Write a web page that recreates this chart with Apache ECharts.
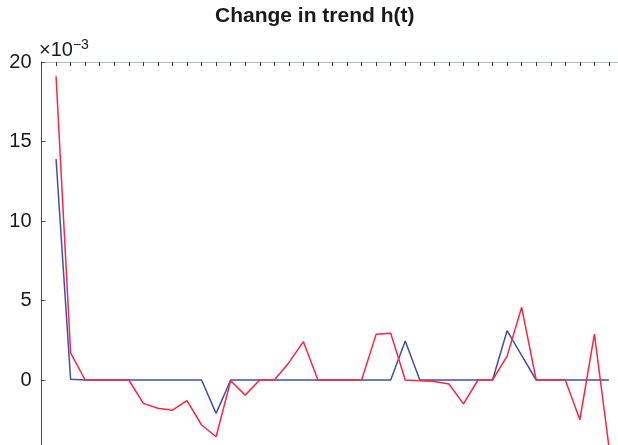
<!DOCTYPE html>
<html>
<head>
<meta charset="utf-8">
<script src="https://cdn.jsdelivr.net/npm/echarts@6/dist/echarts.min.js"></script>
<style>
  html, body { margin: 0; padding: 0; background: #ffffff; }
  #chart { width: 618px; height: 445px; }
</style>
</head>
<body>
<div id="chart"></div>
<script>
// Time steps t = 1..39
var steps = [1, 2, 3, 4, 5, 6, 7, 8, 9, 10, 11, 12, 13, 14, 15, 16, 17, 18, 19, 20,
             21, 22, 23, 24, 25, 26, 27, 28, 29, 30, 31, 32, 33, 34, 35, 36, 37, 38, 39];

// h(t), in units of 1e-3
var blueTrend = [13.9, 0.05, 0, 0, 0, 0, 0, 0, 0, 0, 0, -2.1, 0, 0, 0, 0, 0, 0, 0, 0,
                 0, 0, 0, 0, 2.45, 0, 0, 0, 0, 0, 0, 3.1, 1.55, 0, 0, 0, 0, 0, 0];
var redTrend = [19.1, 1.7, 0, 0, 0, 0, -1.47, -1.78, -1.9, -1.3, -2.83, -3.57, -0.05, -0.95, 0, 0, 1.09, 2.41, 0, 0,
                0, 0, 2.87, 2.94, 0, -0.05, -0.1, -0.25, -1.5, 0, 0, 1.5, 4.57, 0, 0, 0, -2.5, 2.88, -4.2];

// y-axis ticks (x 1e-3)
var yTicks = [0, 5, 10, 15, 20];

function pairs(vals) {
  return steps.map(function (t, i) { return [t, vals[i]]; });
}

var chart = echarts.init(document.getElementById('chart'), null, { renderer: 'canvas' });

chart.setOption({
  animation: false,
  backgroundColor: '#ffffff',
  textStyle: { fontFamily: 'Liberation Sans, Arial, sans-serif' },
  graphic: [
    {
      type: 'text', left: 215, top: 6,
      style: { text: 'Change in trend h(t)', font: 'bold 21px "Liberation Sans", Arial, sans-serif', fill: '#1a1a1a' }
    },
    {
      type: 'text', left: 39, top: 38,
      style: {
        text: '{m|\u00d710}{e|\u22123}',
        rich: {
          m: { fontSize: 20, fontFamily: 'Liberation Sans', fill: '#1a1a1a', verticalAlign: 'bottom', lineHeight: 22 },
          e: { fontSize: 14, fontFamily: 'Liberation Sans', fill: '#1a1a1a', verticalAlign: 'top', lineHeight: 22 }
        }
      }
    }
  ],
  grid: {
    left: 41.5, top: 62, right: -5.5, bottom: -14.5,
    containLabel: false, outerBoundsMode: 'none'
  },
  xAxis: {
    type: 'value', position: 'top',
    min: 0, max: 40, interval: 1,
    axisLine: { show: true, onZero: false, lineStyle: { color: '#b8c0c0', width: 1 } },
    axisTick: { show: true, inside: true, length: 4, lineStyle: { color: '#333', width: 1 } },
    axisLabel: { show: false },
    splitLine: { show: false }
  },
  yAxis: {
    type: 'value',
    min: -5, max: 20, interval: 5,
    axisLine: { show: true, onZero: false, lineStyle: { color: '#4a4f55', width: 1 } },
    axisTick: { show: true, inside: true, length: 4, lineStyle: { color: '#4a4f55', width: 1 } },
    axisLabel: {
      show: true, margin: 10, fontSize: 20, color: '#1a1a1a',
      fontFamily: 'Liberation Sans, Arial, sans-serif',
      formatter: function (v) { return yTicks.indexOf(v) >= 0 ? String(v) : ''; }
    },
    splitLine: { show: false }
  },
  series: [
    {
      name: 'blue', type: 'line', data: pairs(blueTrend),
      symbol: 'none', lineStyle: { color: '#3a50b0', width: 1.5 }
    },
    {
      name: 'red', type: 'line', data: pairs(redTrend),
      symbol: 'none', lineStyle: { color: '#ff2442', width: 1.5 }
    }
  ]
});
</script>
</body>
</html>
